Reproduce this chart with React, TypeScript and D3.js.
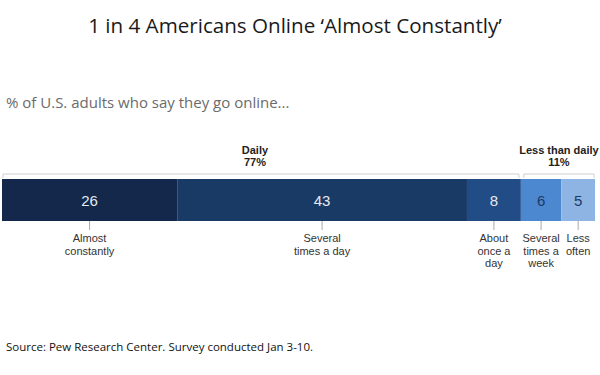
import React from "react";
import * as d3 from "d3";

const categories = ["Almost constantly", "Several times a day", "About once a day", "Several times a week", "Less often"];
const values = [26, 43, 8, 6, 5];
const labelLines = [["Almost", "constantly"], ["Several", "times a day"], ["About", "once a", "day"], ["Several", "times a", "week"], ["Less", "often"]];
const colors = ["#13284a", "#1a3a66", "#224c85", "#4c88d0", "#8db4e3"];
const valueColors = ["#e6e9ee", "#e6e9ee", "#e6e9ee", "#1a3a66", "#1a3a66"];
const groups = [
  { name: "Daily", pct: "77%", from: 0, to: 3 },
  { name: "Less than daily", pct: "11%", from: 3, to: 5 },
];

export default function App() {
  const W = 600, H = 375;
  const total = d3.sum(values);
  const x = d3.scaleLinear().domain([0, total]).range([2, 595]);
  const cum = values.map((_, i) => d3.sum(values.slice(0, i)));
  const barTop = 179, barBot = 221;
  const font = "'Liberation Sans', Arial, sans-serif";
  const open = "'Open Sans', sans-serif";
  return (
    <svg width={W} height={H} style={{ position: "absolute", left: 0, top: 0, background: "#fff" }}>
      <text x={295} y={33} textAnchor="middle" fontFamily={open} fontSize={20.6} fill="#1a1a1a">
        1 in 4 Americans Online ‘Almost Constantly’
      </text>
      <text x={6} y={108} fontFamily={open} fontSize={15} fill="#6b6b6b">
        % of U.S. adults who say they go online...
      </text>
      {groups.map((g, gi) => {
        const x0 = x(cum[g.from]) + (gi === 0 ? 1 : 3);
        const x1 = x(cum[g.to - 1] + values[g.to - 1]) - (gi === 0 ? 2 : 1);
        const cx = (x0 + x1) / 2 - (gi === 0 ? 6 : 0);
        return (
          <g key={g.name}>
            <path d={`M${x0},178 V174 H${x1} V178`} fill="none" stroke="#cfcfcf" strokeWidth={1} />
            <text x={cx} y={154} textAnchor="middle" fontFamily={font} fontWeight="bold" fontSize={11} fill="#222">{g.name}</text>
            <text x={cx} y={166} textAnchor="middle" fontFamily={font} fontWeight="bold" fontSize={11} fill="#222">{g.pct}</text>
          </g>
        );
      })}
      {values.map((v, i) => {
        const x0 = x(cum[i]);
        const x1 = x(cum[i] + v);
        const cx = (x0 + x1) / 2;
        return (
          <g key={categories[i]}>
            <rect x={x0} y={barTop} width={x1 - x0} height={barBot - barTop} fill={colors[i]} />
            <text x={cx} y={206} textAnchor="middle" fontFamily={font} fontSize={15} fill={valueColors[i]}>{v}</text>
            <line x1={cx} x2={cx} y1={barBot} y2={230} stroke="#aaa" strokeWidth={1} />
            {labelLines[i].map((l, j) => (
              <text key={j} x={cx} y={242 + j * 12.5} textAnchor="middle" fontFamily={font} fontSize={11} fill="#333">{l}</text>
            ))}
          </g>
        );
      })}
      <text x={6} y={351} fontFamily={open} fontSize={11.5} fill="#111">
        Source: Pew Research Center. Survey conducted Jan 3-10.
      </text>
    </svg>
  );
}
